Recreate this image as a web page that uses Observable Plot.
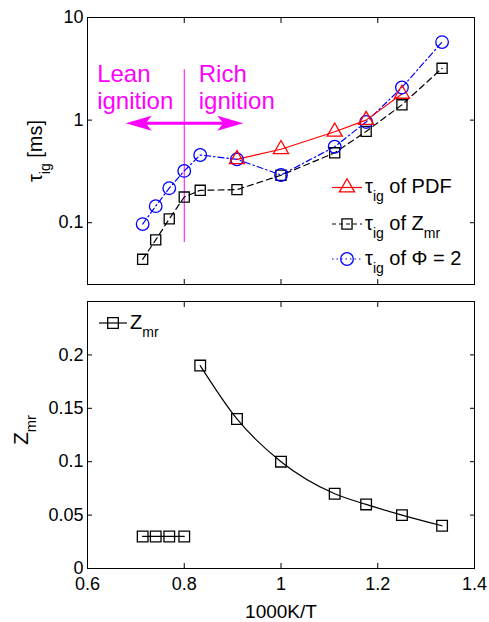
<!DOCTYPE html>
<html>
<head>
<meta charset="utf-8">
<script src="https://cdn.jsdelivr.net/npm/d3@7"></script>
<script src="https://cdn.jsdelivr.net/npm/@observablehq/plot@0.6"></script>
<style>
  html, body { margin: 0; padding: 0; background: #fff; }
  #chart { width: 489px; }
  #chart svg { display: block; }
</style>
</head>
<body>
<div id="chart"></div>
<script>
// ---- data -----------------------------------------------------------------
// inverse temperature 1000K/T of the simulated cases (T = 1400 ... 750 K)
const invT = [0.714, 0.741, 0.769, 0.800, 0.833, 0.909, 1.000, 1.111, 1.176, 1.250, 1.333];
// ignition delay [ms] at the most reactive mixture fraction Z_mr
const tauZmr = [0.044, 0.068, 0.109, 0.178, 0.207, 0.210, 0.290, 0.480, 0.776, 1.41, 3.20];
// ignition delay [ms] at equivalence ratio 2
const tauPhi2 = [0.097, 0.145, 0.217, 0.320, 0.457, 0.415, 0.292, 0.550, 0.960, 2.08, 5.76];
// ignition delay [ms] from the PDF cases (rich branch only)
const invTPdf = [0.909, 1.000, 1.111, 1.176, 1.250];
const tauPdf = [0.415, 0.520, 0.770, 1.000, 1.80];
// most reactive mixture fraction
const zmr = [0.03, 0.03, 0.03, 0.03, 0.19, 0.14, 0.10, 0.07, 0.06, 0.05, 0.04];
const zmrBranch = ["lean", "lean", "lean", "lean", "rich", "rich", "rich", "rich", "rich", "rich", "rich"];

// axes
const xTicks = [0.6, 0.8, 1.0, 1.2, 1.4];
const tauTicks = [0.1, 1, 10];
const zTicks = [0, 0.05, 0.1, 0.15, 0.2];

// lean / rich ignition annotation
const dividerX = [0.8];
const dividerY = [0.064, 3.1];
const arrowY = [0.93];
const arrowEnds = [0.679, 0.922];
const arrowTurn = [180, 0];
const regionLabels = ["Lean\nignition", "Rich\nignition"];
const regionLabelX = [0.62, 0.83];
const regionLabelY = 3.68;

// ---- styling --------------------------------------------------------------
const font = "'Liberation Sans', Arial, Helvetica, sans-serif";
const RED = "#ff0000", BLUE = "#0000ff", MAGENTA = "#ff00ff";
const DASH = "6,4", DASHDOT = "6,3,1.5,3";
const R_TRI = 5.6, R_SQ = 5.7, R_CIRC = 6.3;

const rows = invT.map((x, i) => ({x, zmrTau: tauZmr[i], phiTau: tauPhi2[i], z: zmr[i], branch: zmrBranch[i]}));
const pdfRows = invTPdf.map((x, i) => ({x, tau: tauPdf[i]}));
const labelRows = regionLabels.map((t, i) => ({t, x: regionLabelX[i], y: regionLabelY}));
const arrowRows = arrowEnds.map((x, i) => ({x, turn: arrowTurn[i]}));

// filled arrow head, tip at the origin pointing right
const arrowHead = {
  draw(context) {
    context.moveTo(0, 0);
    context.lineTo(-26, -7.5);
    context.lineTo(-20, 0);
    context.lineTo(-26, 7.5);
    context.closePath();
  }
};

// inward ticks on all four sides; labels only where asked
function boxAxes(xt, yt, {xLabels, yLabels, yFormat}) {
  const blank = () => "";
  return [
    Plot.axisY(yt, {anchor: "left", tickSize: -5, tickPadding: 9, tickFormat: yLabels ? yFormat : blank, label: null}),
    Plot.axisY(yt, {anchor: "right", tickSize: -5, tickFormat: blank, label: null}),
    Plot.axisX(xt, {anchor: "bottom", tickSize: -5, tickPadding: 14, tickFormat: xLabels ? (d => String(d)) : blank, label: null}),
    Plot.axisX(xt, {anchor: "top", tickSize: -5, tickFormat: blank, label: null}),
    Plot.frame({stroke: "black", strokeWidth: 1})
  ];
}

// turn "a_{b}" into a baseline text with a lowered, smaller "b"
function applySubscripts(svg) {
  d3.select(svg).selectAll("text").each(function () {
    const s = this.textContent;
    if (!s.includes("_{")) return;
    const parts = s.split(/_\{([^}]*)\}/);
    this.textContent = "";
    let prevSub = false;
    parts.forEach((p, i) => {
      if (!p) return;
      const sub = i % 2 === 1;
      const ts = document.createElementNS("http://www.w3.org/2000/svg", "tspan");
      ts.textContent = p;
      if (sub) {
        ts.setAttribute("font-size", "70%");
        ts.setAttribute("dy", "0.6em");
      } else if (prevSub) {
        ts.setAttribute("dy", "-0.42em");
      }
      prevSub = sub;
      this.appendChild(ts);
    });
  });
}

function addLegend(svg, entries, {x1, x2, xm, xt, fontSize}) {
  const g = d3.select(svg).append("g")
    .attr("font-family", font).attr("font-size", fontSize).attr("text-anchor", "start");
  for (const e of entries) {
    g.append("line").attr("x1", x1).attr("x2", x2).attr("y1", e.y).attr("y2", e.y)
      .attr("stroke", e.color).attr("stroke-width", 1.2).attr("stroke-dasharray", e.dash || null);
    g.append("path").attr("transform", `translate(${xm},${e.y})`)
      .attr("d", d3.symbol(e.symbol, Math.PI * e.r * e.r)())
      .attr("fill", "none").attr("stroke", e.color).attr("stroke-width", 1.3);
    g.append("text").attr("x", xt).attr("y", e.y + 5.5).attr("fill", "black").text(e.text);
  }
}

// ---- top panel: ignition delay --------------------------------------------
const topPlot = Plot.plot({
  width: 489, height: 292,
  marginLeft: 87, marginRight: 15, marginTop: 17, marginBottom: 8,
  style: {fontFamily: font, fontSize: "18px", color: "black", background: "white", overflow: "visible"},
  x: {domain: [0.6, 1.4]},
  y: {type: "log", domain: [0.025, 10]},
  marks: [
    ...boxAxes(xTicks, tauTicks, {xLabels: false, yLabels: true, yFormat: d => String(d)}),
    Plot.ruleX(dividerX, {x: d => d, y1: dividerY[0], y2: dividerY[1], stroke: MAGENTA, strokeWidth: 1}),
    Plot.ruleY(arrowY, {y: d => d, x1: arrowEnds[0], x2: arrowEnds[1], insetLeft: 16, insetRight: 16, stroke: MAGENTA, strokeWidth: 3}),
    Plot.dot(arrowRows, {x: "x", y: () => arrowY[0], symbol: arrowHead, r: 1, rotate: "turn", fill: MAGENTA, stroke: "none"}),
    Plot.text(labelRows, {x: "x", y: "y", text: "t", textAnchor: "start", lineAnchor: "top", lineHeight: 1.15, fontSize: 24, fill: MAGENTA}),
    Plot.line(rows, {x: "x", y: "zmrTau", stroke: "black", strokeWidth: 1.2, strokeDasharray: DASH}),
    Plot.line(rows, {x: "x", y: "phiTau", stroke: BLUE, strokeWidth: 1.2, strokeDasharray: DASHDOT}),
    Plot.line(pdfRows, {x: "x", y: "tau", stroke: RED, strokeWidth: 1.2}),
    Plot.dot(rows, {x: "x", y: "zmrTau", symbol: "square", r: R_SQ, stroke: "black", strokeWidth: 1.3, fill: "none"}),
    Plot.dot(rows, {x: "x", y: "phiTau", symbol: "circle", r: R_CIRC, stroke: BLUE, strokeWidth: 1.3, fill: "none"}),
    Plot.dot(pdfRows, {x: "x", y: "tau", symbol: "triangle", r: R_TRI, stroke: RED, strokeWidth: 1.3, fill: "none"}),
    Plot.text(["τ_{ig} [ms]"], {text: d => d, frameAnchor: "left", textAnchor: "middle", dx: -46, rotate: -90, lineAnchor: "bottom", fontSize: 20, fill: "black"})
  ]
});

addLegend(topPlot, [
  {y: 187.5, color: RED, symbol: d3.symbolTriangle, r: R_TRI, text: "τ_{ig} of PDF"},
  {y: 224, color: "black", dash: "4,3", symbol: d3.symbolSquare, r: R_SQ, text: "τ_{ig} of Z_{mr}"},
  {y: 259, color: BLUE, dash: "1.5,3", symbol: d3.symbolCircle, r: R_CIRC, text: "τ_{ig} of Φ = 2"}
], {x1: 332, x2: 362, xm: 347, xt: 365, fontSize: 20});
applySubscripts(topPlot);

// ---- bottom panel: most reactive mixture fraction --------------------------
const bottomPlot = Plot.plot({
  width: 489, height: 330,
  marginLeft: 87, marginRight: 15, marginTop: 9, marginBottom: 54,
  style: {fontFamily: font, fontSize: "18px", color: "black", background: "white", overflow: "visible"},
  x: {domain: [0.6, 1.4]},
  y: {domain: [0, 0.25]},
  marks: [
    ...boxAxes(xTicks, zTicks, {xLabels: true, yLabels: true, yFormat: d => String(d)}),
    Plot.line(rows, {x: "x", y: "z", z: "branch", curve: "monotone-x", stroke: "black", strokeWidth: 1.2}),
    Plot.dot(rows, {x: "x", y: "z", symbol: "square", r: R_SQ + 0.3, stroke: "black", strokeWidth: 1.3, fill: "none"}),
    Plot.text(["Z_{mr}"], {text: d => d, frameAnchor: "left", textAnchor: "middle", dx: -60, dy: -5, rotate: -90, lineAnchor: "bottom", fontSize: 21, fill: "black"}),
    Plot.text(["1000K/T"], {text: d => d, frameAnchor: "bottom", dy: 49, lineAnchor: "bottom", fontSize: 19, fill: "black"})
  ]
});

addLegend(bottomPlot, [
  {y: 31, color: "black", symbol: d3.symbolSquare, r: R_SQ + 0.3, text: "Z_{mr}"}
], {x1: 99, x2: 127, xm: 113, xt: 130, fontSize: 20});
applySubscripts(bottomPlot);

const chart = document.getElementById("chart");
chart.appendChild(topPlot);
chart.appendChild(bottomPlot);
</script>
</body>
</html>
